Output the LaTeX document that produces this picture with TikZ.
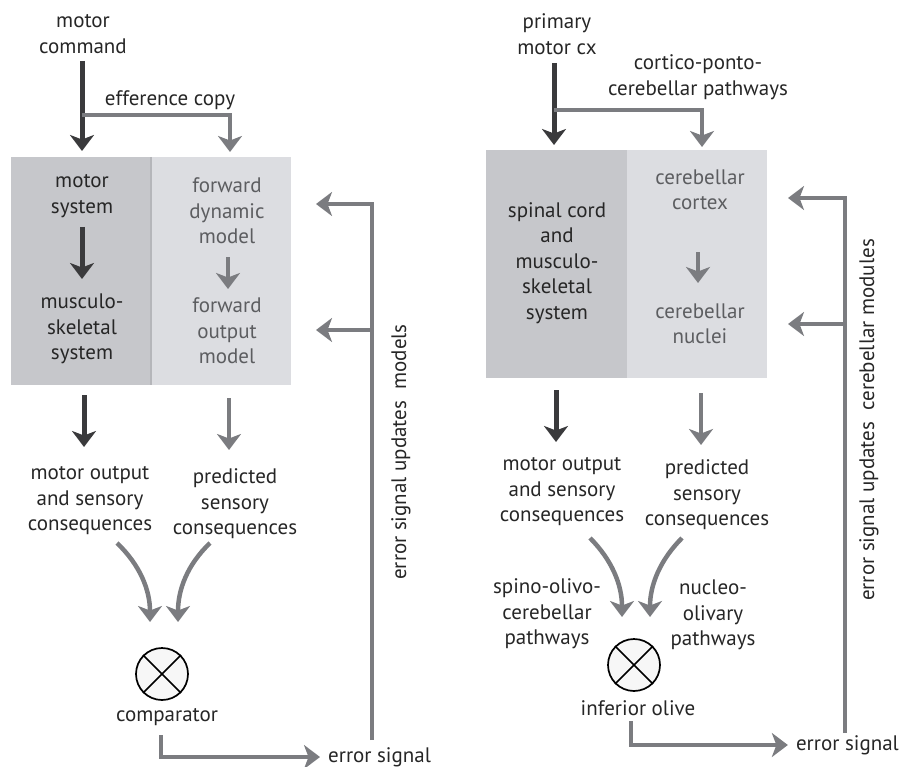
\documentclass[tikz,border=0pt]{standalone}
\usepackage{fontspec}
\setmainfont{PT Sans}
\usetikzlibrary{arrows.meta,positioning}
\definecolor{darkarr}{HTML}{3A3A3C}
\definecolor{grayarr}{HTML}{7B7C80}
\definecolor{boxdark}{HTML}{C6C7CB}
\definecolor{boxlight}{HTML}{DCDDE1}
\definecolor{boxedge}{HTML}{B5B6BA}
\definecolor{txtgray}{HTML}{5C5D60}

\begin{document}
\begin{tikzpicture}[x=1pt,y=-1pt,
    >={Stealth[length=16pt,width=24pt,inset=4.5pt]},
    lbl/.style={align=center,inner sep=0pt,text=black!85,
      font=\fontsize{21}{25.5}\selectfont},
    modellbl/.style={lbl,text=txtgray},
    darkline/.style={draw=darkarr,line width=5pt,->},
    grayline/.style={draw=grayarr,line width=4.5pt,->},
    olive/.style={circle,draw=black,line width=1.7pt,fill=black!3,
      minimum size=52pt,inner sep=0pt}]
  \useasboundingbox (0,0) rectangle (901,767);

  % left panel: forward model
  \fill[boxdark] (11,157) rectangle (151,385);
  \fill[boxlight] (151,157) rectangle (291,385);
  \draw[boxedge,line width=2pt] (151,157) -- (151,385);

  \node[lbl] (cmd) at (83,34) {motor\\command};
  \node[lbl] (effcopy) at (170,100) {efference copy};
  \node[lbl] (motsys) at (82,196) {motor\\system};
  \node[lbl] (musc) at (82,329) {musculo-\\skeletal\\system};
  \node[modellbl] (fdm) at (227,211) {forward\\dynamic\\model};
  \node[modellbl] (fom) at (227,331) {forward\\output\\model};
  \node[lbl] (motout) at (90,501) {motor output\\and sensory\\consequences};
  \node[lbl] (predsens) at (235,504) {predicted\\sensory\\consequences};
  \node[olive] (comp) at (162,674) {};
  \node[lbl] (complbl) at (167,717) {comparator};
  \node[lbl,anchor=west] (errsig) at (328,757) {error signal};
  \node[lbl,rotate=90] (updmod) at (401,452) {error signal updates\ \ models};

  \coordinate (cmdtop) at (82,61);
  \coordinate (motin) at (82,151);
  \coordinate (effsplit) at (82,115);
  \coordinate (fdmin) at (230,152);
  \coordinate (fbtop) at (372,204);
  \coordinate (fbmid) at (372,330);
  \coordinate (fbbot) at (372,740);
  \coordinate (compout) at (161,735);

  \draw[line width=1.7pt] (comp.north east) -- (comp.south west)
    (comp.north west) -- (comp.south east);
  \draw[darkline] (cmdtop) -- (motin);
  \draw[grayline,shorten <=-2.5pt] ([xshift=2.5pt]effsplit) -| (fdmin);
  \draw[darkline] (82,227) -- (82,279);
  \draw[grayline] (228,257) -- (228,289);
  \draw[darkline] (84,395) -- (84,447);
  \draw[grayline] (229,398) -- (229,450);
  \draw[grayline] (117,543) .. controls (140,565) and (150,590) .. (150,622);
  \draw[grayline] (210,543) .. controls (187,565) and (178,590) .. (178,622);
  \draw[grayline] (fbbot) -- (fbtop) -- (316,204);
  \draw[grayline] (fbmid) -- (316,330);
  \draw[grayline] (compout) |- ([xshift=-8pt]errsig.west);

  % right panel: cerebellum
  \fill[boxdark] (486,150) rectangle (627,378);
  \fill[boxlight] (627,150) rectangle (767,378);

  \node[lbl] (m1) at (557,34) {primary\\motor cx};
  \node[lbl] (cpc) at (698,77) {cortico-ponto-\\cerebellar pathways};
  \node[lbl] (spinal) at (557,263) {spinal cord\\and\\musculo-\\skeletal\\system};
  \node[modellbl] (cbcx) at (700,190) {cerebellar\\cortex};
  \node[modellbl] (cbnuc) at (700,324) {cerebellar\\nuclei};
  \node[lbl] (motout2) at (562,492) {motor output\\and sensory\\consequences};
  \node[lbl] (predsens2) at (707,495) {predicted\\sensory\\consequences};
  \node[lbl] (socp) at (547,614) {spino-olivo-\\cerebellar\\pathways};
  \node[lbl] (nop) at (713,615) {nucleo-\\olivary\\pathways};
  \node[olive] (io) at (634,665) {};
  \node[lbl] (iolbl) at (638,708) {inferior olive};
  \node[lbl,anchor=east] (errsig2) at (899,745) {error signal};
  \node[lbl,rotate=90] (updcb) at (869,420) {error signal updates\ \ cerebellar modules};

  \coordinate (m1top) at (554,63);
  \coordinate (spinalin) at (554,145);
  \coordinate (cpcsplit) at (554,110);
  \coordinate (cbcxin) at (702,147);
  \coordinate (fbtop2) at (845,198);
  \coordinate (fbmid2) at (845,324);
  \coordinate (fbbot2) at (845,733);
  \coordinate (ioout) at (631,721);

  \draw[line width=1.7pt] (io.north east) -- (io.south west)
    (io.north west) -- (io.south east);
  \draw[darkline] (m1top) -- (spinalin);
  \draw[grayline,shorten <=-2.5pt] ([xshift=2.5pt]cpcsplit) -| (cbcxin);
  \draw[grayline] (698,252) -- (698,283);
  \draw[darkline] (556,390) -- (556,442);
  \draw[grayline] (701,393) -- (701,445);
  \draw[grayline] (590,538) .. controls (612,560) and (622,585) .. (622,617);
  \draw[grayline] (682,538) .. controls (660,560) and (650,585) .. (650,617);
  \draw[grayline] (fbbot2) -- (fbtop2) -- (788,198);
  \draw[grayline] (fbmid2) -- (788,324);
  \draw[grayline] (ioout) |- ([xshift=-8pt]errsig2.west);
\end{tikzpicture}
\end{document}
